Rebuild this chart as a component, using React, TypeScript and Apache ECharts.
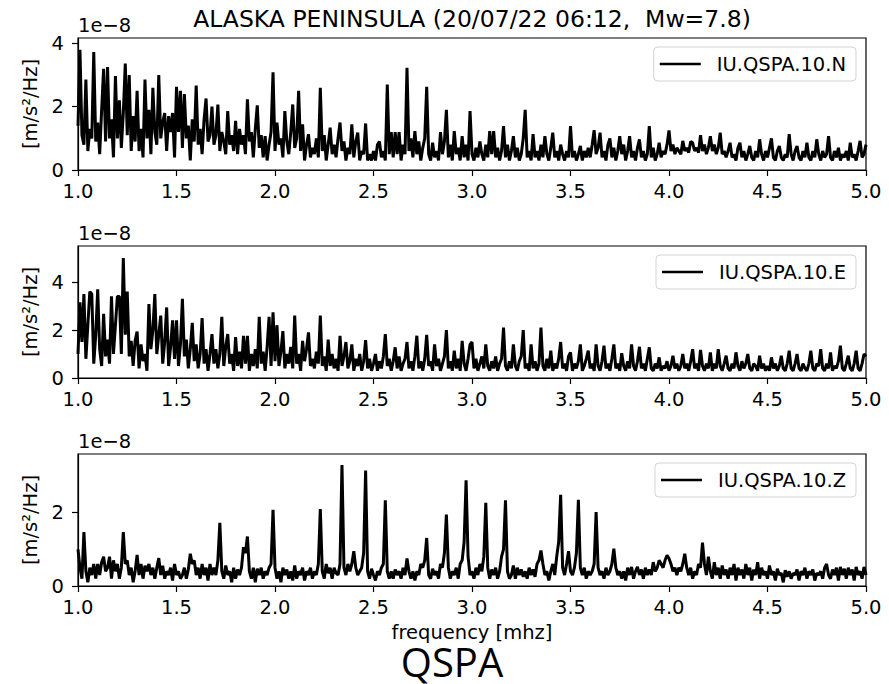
import React, { useEffect, useRef } from "react";
import * as echarts from "echarts";

// Spectral amplitudes in units of 1e-8 m/s^2/Hz, one value every 0.01 mHz from 1.00 to 5.00 mHz
const FREQ_START = 1.0;
const FREQ_STEP = 0.01;

const N_VALUES = [
  1.4, 3.8, 1.1, 0.8, 2.86, 0.6, 1.3, 1.0, 3.73, 0.9,
  1.5, 0.5, 1.9, 3.2, 0.9, 3.25, 1.0, 1.6, 0.4, 2.97,
  1.0, 2.2, 0.7, 1.8, 3.36, 1.1, 3.0, 0.6, 1.7, 0.9,
  2.5, 0.6, 1.3, 0.4, 2.86, 1.0, 1.9, 0.5, 2.6, 1.2,
  0.8, 3.0, 1.0, 1.5, 1.8, 0.6, 1.7, 1.2, 1.8, 0.4,
  2.63, 1.2, 2.5, 0.7, 2.4, 1.0, 1.4, 0.3, 1.6, 0.9,
  2.67, 0.8, 1.3, 0.5, 1.6, 2.26, 0.9, 1.1, 2.0, 0.8,
  1.1, 2.07, 0.6, 1.2, 0.9, 0.5, 1.86, 0.8, 1.1, 0.6,
  1.55, 0.5, 1.3, 0.8, 1.1, 0.5, 2.23, 0.9, 1.2, 0.4,
  1.3, 2.04, 0.7, 1.1, 0.4, 1.07, 0.3, 0.8, 1.2, 3.09,
  0.6, 1.5, 0.8, 1.0, 0.4, 1.86, 0.9, 0.5, 1.2, 2.07,
  0.7, 1.0, 2.5, 0.6, 1.44, 0.3, 0.8, 1.13, 0.4, 0.7,
  0.5, 1.0, 0.4, 2.6, 0.6, 1.1, 0.3, 0.8, 1.34, 0.5,
  0.8, 0.4, 1.0, 1.5, 0.6, 0.9, 0.3, 0.7, 0.5, 1.44,
  0.4, 0.9, 1.18, 0.3, 0.6, 0.5, 1.47, 0.3, 0.5, 0.3,
  0.6, 0.3, 0.8, 0.9, 0.4, 0.6, 0.3, 2.7, 0.5, 1.2,
  0.4, 1.2, 0.5, 1.2, 0.3, 0.8, 0.5, 3.23, 0.6, 1.0,
  0.4, 1.23, 0.5, 0.9, 0.3, 0.7, 1.0, 2.63, 0.5, 0.3,
  0.86, 0.4, 0.6, 0.3, 1.2, 0.5, 0.9, 1.9, 0.4, 0.8,
  0.3, 1.23, 0.5, 0.7, 0.3, 1.07, 0.4, 0.8, 0.3, 1.86,
  0.5, 0.3, 0.7, 0.4, 0.9, 0.5, 0.3, 0.8, 0.4, 1.23,
  0.5, 1.23, 0.4, 0.7, 0.3, 0.6, 1.39, 0.4, 0.8, 0.3,
  0.6, 1.07, 0.4, 0.7, 0.3, 0.5, 1.0, 1.9, 0.4, 0.6,
  0.3, 1.13, 0.4, 0.6, 0.3, 0.8, 0.4, 1.07, 0.5, 0.3,
  0.7, 1.18, 0.4, 0.6, 0.3, 0.8, 0.5, 0.3, 0.6, 0.4,
  1.39, 0.4, 0.6, 0.3, 0.5, 0.76, 0.3, 0.6, 0.4, 0.7,
  0.4, 0.8, 1.26, 0.5, 0.7, 1.18, 0.4, 0.6, 0.3, 0.8,
  1.0, 0.4, 0.7, 0.3, 0.6, 1.07, 0.5, 0.8, 0.3, 0.6,
  1.07, 0.4, 0.6, 0.3, 0.7, 0.97, 0.4, 0.6, 0.3, 0.5,
  1.39, 0.4, 0.7, 0.3, 0.5, 0.86, 0.4, 0.6, 0.5, 0.8,
  1.25, 0.6, 0.8, 0.5, 0.7, 0.6, 0.5, 0.92, 0.6, 0.7,
  0.55, 0.9, 0.86, 0.6, 0.7, 0.55, 1.1, 0.6, 0.8, 0.5,
  0.7, 1.07, 0.6, 0.8, 0.5, 0.7, 1.18, 0.5, 0.6, 0.4,
  0.6, 0.86, 0.4, 0.5, 0.3, 0.7, 0.86, 0.4, 0.6, 0.3,
  0.5, 0.76, 0.4, 0.3, 0.6, 0.4, 0.97, 0.5, 0.3, 0.6,
  0.4, 0.7, 1.0, 0.4, 0.3, 0.6, 0.76, 0.4, 0.3, 0.5,
  0.4, 1.13, 0.5, 0.3, 0.6, 0.76, 0.4, 0.3, 0.6, 0.4,
  0.86, 0.4, 0.3, 0.6, 0.4, 0.97, 0.5, 0.3, 0.6, 0.4,
  0.5, 1.07, 0.4, 0.3, 0.6, 0.4, 0.7, 0.3, 0.5, 0.4,
  0.6, 0.3, 0.86, 0.4, 0.5, 0.3, 0.6, 0.92, 0.4, 0.5,
  0.8,
];

const E_VALUES = [
  1.0, 3.15, 1.5, 3.5, 0.8, 2.2, 3.6, 3.5, 0.6, 1.8,
  3.7, 1.2, 0.5, 2.67, 0.9, 1.6, 0.6, 3.4, 1.0, 2.2,
  3.4, 3.4, 1.0, 5.0, 1.8, 3.6, 0.9, 1.55, 0.5, 1.55,
  1.93, 0.4, 1.4, 0.7, 1.0, 0.3, 3.08, 1.2, 2.0, 3.5,
  1.0, 1.8, 2.6, 0.6, 1.5, 2.94, 0.5, 1.3, 2.4, 0.8,
  2.4, 0.5, 1.4, 3.3, 0.9, 1.6, 0.4, 1.2, 2.3, 0.7,
  1.4, 0.4, 1.0, 2.5, 0.6, 1.2, 0.3, 1.0, 1.83, 0.6,
  1.2, 0.4, 1.0, 2.55, 0.5, 1.3, 1.83, 0.6, 1.0, 0.3,
  1.7, 0.5, 1.1, 0.4, 1.76, 0.6, 1.76, 0.3, 1.0, 0.5,
  1.2, 0.4, 2.55, 0.6, 1.1, 0.3, 1.3, 2.55, 0.5, 2.74,
  0.7, 2.2, 0.5, 1.1, 1.95, 0.4, 1.0, 0.6, 1.3, 0.4,
  2.6, 0.6, 1.0, 0.3, 1.55, 0.7, 1.2, 1.9, 0.5, 0.8,
  0.4, 1.1, 0.6, 2.6, 0.5, 0.9, 0.3, 1.6, 0.5, 1.0,
  0.4, 0.8, 0.3, 1.76, 0.5, 0.9, 1.5, 0.4, 0.7, 1.4,
  0.3, 0.8, 0.5, 1.0, 0.3, 0.7, 1.58, 0.4, 0.8, 0.3,
  0.6, 1.0, 0.3, 0.7, 0.4, 0.9, 1.83, 0.5, 0.8, 0.3,
  0.7, 1.28, 0.4, 0.9, 0.3, 0.6, 0.8, 1.5, 0.4, 0.7,
  0.3, 0.9, 1.76, 0.4, 0.7, 0.3, 0.8, 1.8, 0.5, 0.7,
  0.3, 1.4, 0.5, 0.8, 0.3, 0.6, 0.9, 2.0, 0.4, 0.7,
  0.3, 1.14, 0.4, 0.8, 0.3, 1.55, 0.6, 0.3, 0.8, 1.4,
  1.5, 0.4, 0.8, 0.3, 0.6, 0.9, 0.4, 1.4, 0.5, 0.3,
  0.7, 0.4, 0.9, 0.3, 0.6, 0.8, 2.1, 0.5, 0.3, 0.7,
  0.4, 1.4, 0.5, 0.3, 0.7, 0.9, 2.0, 0.4, 0.6, 0.3,
  1.4, 0.4, 0.7, 0.3, 0.6, 2.1, 0.5, 0.3, 0.8, 0.4,
  1.14, 0.3, 0.6, 0.4, 0.8, 1.5, 0.4, 0.6, 0.3, 0.9,
  1.07, 0.3, 0.6, 0.4, 0.7, 1.4, 0.3, 0.5, 0.8, 1.14,
  0.4, 0.6, 0.3, 1.4, 0.5, 0.3, 0.7, 1.35, 0.4, 0.6,
  0.3, 0.8, 1.4, 0.4, 0.6, 0.3, 1.03, 0.5, 0.3, 0.7,
  0.4, 1.4, 0.5, 0.3, 0.7, 1.3, 0.4, 0.6, 0.3, 0.8,
  1.28, 0.4, 0.3, 0.6, 0.4, 0.86, 0.3, 0.5, 0.4, 0.7,
  0.3, 0.5, 0.93, 0.4, 0.6, 0.3, 0.5, 1.0, 0.4, 0.6,
  0.3, 0.7, 1.2, 0.4, 0.6, 0.3, 1.17, 0.5, 0.3, 0.6,
  0.4, 1.07, 0.3, 0.6, 0.4, 1.2, 0.5, 0.3, 0.6, 0.93,
  0.4, 0.3, 0.6, 0.4, 1.07, 0.5, 0.3, 0.7, 0.4, 0.6,
  1.0, 0.4, 0.3, 0.6, 0.5, 0.3, 0.93, 0.4, 0.6, 0.3,
  0.5, 0.3, 0.86, 0.4, 0.6, 0.3, 0.5, 0.93, 0.4, 0.3,
  0.6, 1.14, 0.4, 0.3, 0.6, 1.0, 0.4, 0.3, 0.6, 0.4,
  0.3, 0.6, 1.14, 0.4, 0.3, 0.6, 0.5, 1.2, 0.4, 0.3,
  0.6, 0.4, 1.07, 0.3, 0.5, 0.4, 0.7, 1.35, 0.4, 0.3,
  0.6, 0.93, 0.4, 0.3, 0.6, 1.14, 0.4, 0.3, 0.6, 1.0,
  0.9,
];

const Z_VALUES = [
  1.0, 0.5, 0.2, 1.47, 0.4, 0.1, 0.5, 0.3, 0.6, 0.2,
  0.6, 0.3, 0.65, 0.8, 0.4, 0.5, 0.8, 0.2, 0.7, 0.4,
  0.6, 0.2, 0.5, 1.47, 0.6, 0.7, 0.3, 0.5, 0.1, 0.4,
  0.85, 0.3, 0.6, 0.2, 0.55, 0.4, 0.6, 0.3, 0.5, 0.2,
  0.5, 0.76, 0.3, 0.55, 0.2, 0.4, 0.3, 0.5, 0.15, 0.6,
  0.3, 0.4, 0.2, 0.3, 0.5, 0.2, 0.45, 0.88, 0.6, 0.7,
  0.3, 0.5, 0.2, 0.6, 0.3, 0.5, 0.15, 0.6, 0.3, 0.5,
  0.3, 0.7, 1.72, 0.4, 0.2, 0.56, 0.3, 0.4, 0.1, 0.5,
  0.2, 0.45, 0.3, 0.5, 1.06, 0.9, 1.35, 0.4, 0.2, 0.5,
  0.1, 0.47, 0.3, 0.5, 0.2, 0.4, 0.3, 0.5, 0.6, 2.08,
  0.5, 0.2, 0.4, 0.1, 0.5, 0.3, 0.45, 0.2, 0.4, 0.15,
  0.56, 0.2, 0.4, 0.3, 0.5, 0.15, 0.4, 0.3, 0.5, 0.2,
  0.4, 0.3, 0.6, 2.1, 0.4, 0.2, 0.6, 0.35, 0.5, 0.2,
  0.5, 0.35, 0.3, 0.6, 3.3, 0.5, 0.3, 0.6, 0.4, 0.6,
  0.95, 0.5, 0.3, 0.4, 0.5, 0.9, 3.15, 0.4, 0.2, 0.47,
  0.3, 0.15, 0.4, 0.3, 0.5, 0.6, 2.34, 0.4, 0.2, 0.4,
  0.2, 0.45, 0.3, 0.4, 0.2, 0.5, 0.3, 0.75, 0.4, 0.2,
  0.4, 0.15, 0.4, 0.3, 0.6, 0.5, 0.7, 1.31, 0.3, 0.2,
  0.47, 0.3, 0.4, 0.2, 0.6, 0.5, 0.9, 1.95, 0.5, 0.2,
  0.4, 0.3, 0.5, 0.2, 0.6, 0.7, 1.2, 2.88, 0.8, 0.3,
  0.4, 0.2, 0.5, 0.3, 0.6, 0.4, 0.8, 2.27, 0.5, 0.2,
  0.45, 0.3, 0.5, 0.2, 0.4, 0.8, 1.0, 2.34, 0.4, 0.2,
  0.3, 0.56, 0.2, 0.5, 0.3, 0.45, 0.25, 0.4, 0.2, 0.5,
  0.3, 0.45, 0.25, 0.6, 0.7, 0.97, 0.6, 0.3, 0.4, 0.15,
  0.4, 0.6, 0.3, 0.8, 1.2, 2.49, 0.5, 0.3, 0.6, 0.95,
  0.4, 0.3, 0.5, 0.9, 2.35, 0.5, 0.3, 0.5, 0.2, 0.4,
  0.3, 0.4, 0.6, 2.02, 0.5, 0.3, 0.4, 0.2, 0.5, 0.3,
  0.4, 0.6, 1.02, 0.5, 0.3, 0.4, 0.2, 0.4, 0.15, 0.5,
  0.3, 0.52, 0.2, 0.4, 0.52, 0.3, 0.45, 0.2, 0.5, 0.3,
  0.45, 0.3, 0.65, 0.4, 0.5, 0.7, 0.6, 0.5, 0.7, 0.84,
  0.75, 0.6, 0.4, 0.5, 0.3, 0.5, 0.4, 0.6, 0.88, 0.5,
  0.3, 0.5, 0.2, 0.4, 0.3, 0.6, 0.5, 1.18, 0.6, 0.3,
  0.8, 0.4, 0.2, 0.65, 0.3, 0.5, 0.2, 0.56, 0.3, 0.45,
  0.2, 0.5, 0.3, 0.6, 0.15, 0.5, 0.3, 0.45, 0.2, 0.6,
  0.3, 0.5, 0.15, 0.45, 0.3, 0.65, 0.2, 0.5, 0.3, 0.4,
  0.2, 0.56, 0.3, 0.4, 0.15, 0.47, 0.3, 0.35, 0.1, 0.43,
  0.25, 0.4, 0.2, 0.35, 0.3, 0.45, 0.15, 0.4, 0.3, 0.5,
  0.2, 0.4, 0.3, 0.45, 0.15, 0.35, 0.3, 0.4, 0.2, 0.5,
  0.6, 0.3, 0.2, 0.45, 0.3, 0.5, 0.15, 0.52, 0.3, 0.47,
  0.2, 0.5, 0.3, 0.45, 0.15, 0.52, 0.3, 0.4, 0.2, 0.52,
  0.3,
];

const SERIES_NAMES = ["IU.QSPA.10.N", "IU.QSPA.10.E", "IU.QSPA.10.Z"];
const SERIES_VALUES = [N_VALUES, E_VALUES, Z_VALUES];
const Y_MAX = [4.17, 5.5, 3.6];
const Y_TICKS = [[0, 2, 4], [0, 2, 4], [0, 2]];
const X_TICKS = [1.0, 1.5, 2.0, 2.5, 3.0, 3.5, 4.0, 4.5, 5.0];
const TITLE = "ALASKA PENINSULA (20/07/22 06:12,  Mw=7.8)";
const X_LABEL = "frequency [mhz]";
const Y_LABEL = "[m/s²/Hz]";
const OFFSET_LABEL = "1e\u22128";
const STATION = "QSPA";

const GRID_TOPS = [38, 246, 454];
const GRID_H = 132;
const GRID_LEFT = 78;
const GRID_RIGHT = 23;
const FONT = "DejaVu Sans";
const FS = 19.5;

function toPairs(vals: number[]) {
  return vals.map((v, i) => [Number((FREQ_START + i * FREQ_STEP).toFixed(2)), v]);
}

export default function App() {
  const ref = useRef<HTMLDivElement>(null);
  useEffect(() => {
    if (!ref.current) return;
    const chart = echarts.init(ref.current, undefined, { renderer: "svg" });
    const axisLineStyle = { color: "#000", width: 1.2 };
    const option: any = {
      animation: false,
      backgroundColor: "#fff",
      textStyle: { fontFamily: FONT },
      grid: GRID_TOPS.map((t) => ({
        left: GRID_LEFT,
        right: GRID_RIGHT,
        top: t,
        height: GRID_H,
        show: true,
        borderColor: "#000",
        borderWidth: 1.2,
        backgroundColor: "transparent",
      })),
      xAxis: GRID_TOPS.map((_, i) => ({
        gridIndex: i,
        type: "value",
        min: 1,
        max: 5,
        interval: 0.5,
        axisLine: { show: true, lineStyle: axisLineStyle },
        axisTick: { show: true, inside: false, length: 6, lineStyle: axisLineStyle, customValues: X_TICKS },
        axisLabel: {
          color: "#000",
          fontSize: FS,
          fontFamily: FONT,
          margin: 11,
          customValues: X_TICKS,
          formatter: (v: number) => v.toFixed(1),
        },
        splitLine: { show: false },
        name: i === 2 ? X_LABEL : "",
        nameLocation: "middle",
        nameGap: 36,
        nameTextStyle: { color: "#000", fontSize: FS, fontFamily: FONT, lineHeight: 20 },
      })),
      yAxis: GRID_TOPS.map((_, i) => ({
        gridIndex: i,
        type: "value",
        min: 0,
        max: Y_MAX[i],
        interval: 2,
        axisLine: { show: true, lineStyle: axisLineStyle },
        axisTick: { show: true, inside: false, length: 6, lineStyle: axisLineStyle, customValues: Y_TICKS[i] },
        axisLabel: {
          color: "#000",
          fontSize: FS,
          fontFamily: FONT,
          margin: 14,
          customValues: Y_TICKS[i],
          formatter: (v: number) => String(v),
        },
        splitLine: { show: false },
        name: Y_LABEL,
        nameLocation: "middle",
        nameRotate: 90,
        nameGap: 35,
        nameTextStyle: { color: "#000", fontSize: FS, fontFamily: FONT },
      })),
      legend: SERIES_NAMES.map((name, i) => ({
        data: [name],
        right: 33,
        top: GRID_TOPS[i] + 9,
        icon: "rect",
        itemWidth: 41,
        itemHeight: 2.5,
        padding: [6, 10, 6, 6],
        backgroundColor: "rgba(255,255,255,0.85)",
        borderColor: "#d3d3d3",
        borderWidth: 1,
        borderRadius: 4,
        selectedMode: false,
        itemStyle: { color: "#000" },
        textStyle: { color: "#000", fontSize: FS, fontFamily: FONT, padding: [0, 0, 0, 11], lineHeight: 22 },
      })),
      series: SERIES_NAMES.map((name, i) => ({
        name,
        type: "line",
        xAxisIndex: i,
        yAxisIndex: i,
        data: toPairs(SERIES_VALUES[i]),
        symbol: "none",
        showSymbol: false,
        lineStyle: { color: "#000", width: 3 },
        itemStyle: { color: "#000" },
        clip: true,
      })),
      graphic: [
        {
          type: "text",
          x: GRID_LEFT + (889 - GRID_LEFT - GRID_RIGHT) / 2,
          y: 18.5,
          style: { text: TITLE, fontSize: 23.5, fontFamily: FONT, fill: "#000", textAlign: "center", textVerticalAlign: "middle" },
        },
        ...GRID_TOPS.map((t) => ({
          type: "text",
          x: GRID_LEFT,
          y: t - 12.5,
          style: { text: OFFSET_LABEL, fontSize: FS, fontFamily: FONT, fill: "#000", textAlign: "left", textVerticalAlign: "middle" },
        })),
        {
          type: "text",
          x: 452,
          y: 661,
          style: { text: STATION, fontSize: 40, lineHeight: 32, fontFamily: "Open Sans", fill: "#000", textAlign: "center", textVerticalAlign: "middle" },
        },
      ],
    };
    chart.setOption(option);
    return () => chart.dispose();
  }, []);
  return <div ref={ref} style={{ position: "fixed", left: 0, top: 0, width: 889, height: 684 }} />;
}
